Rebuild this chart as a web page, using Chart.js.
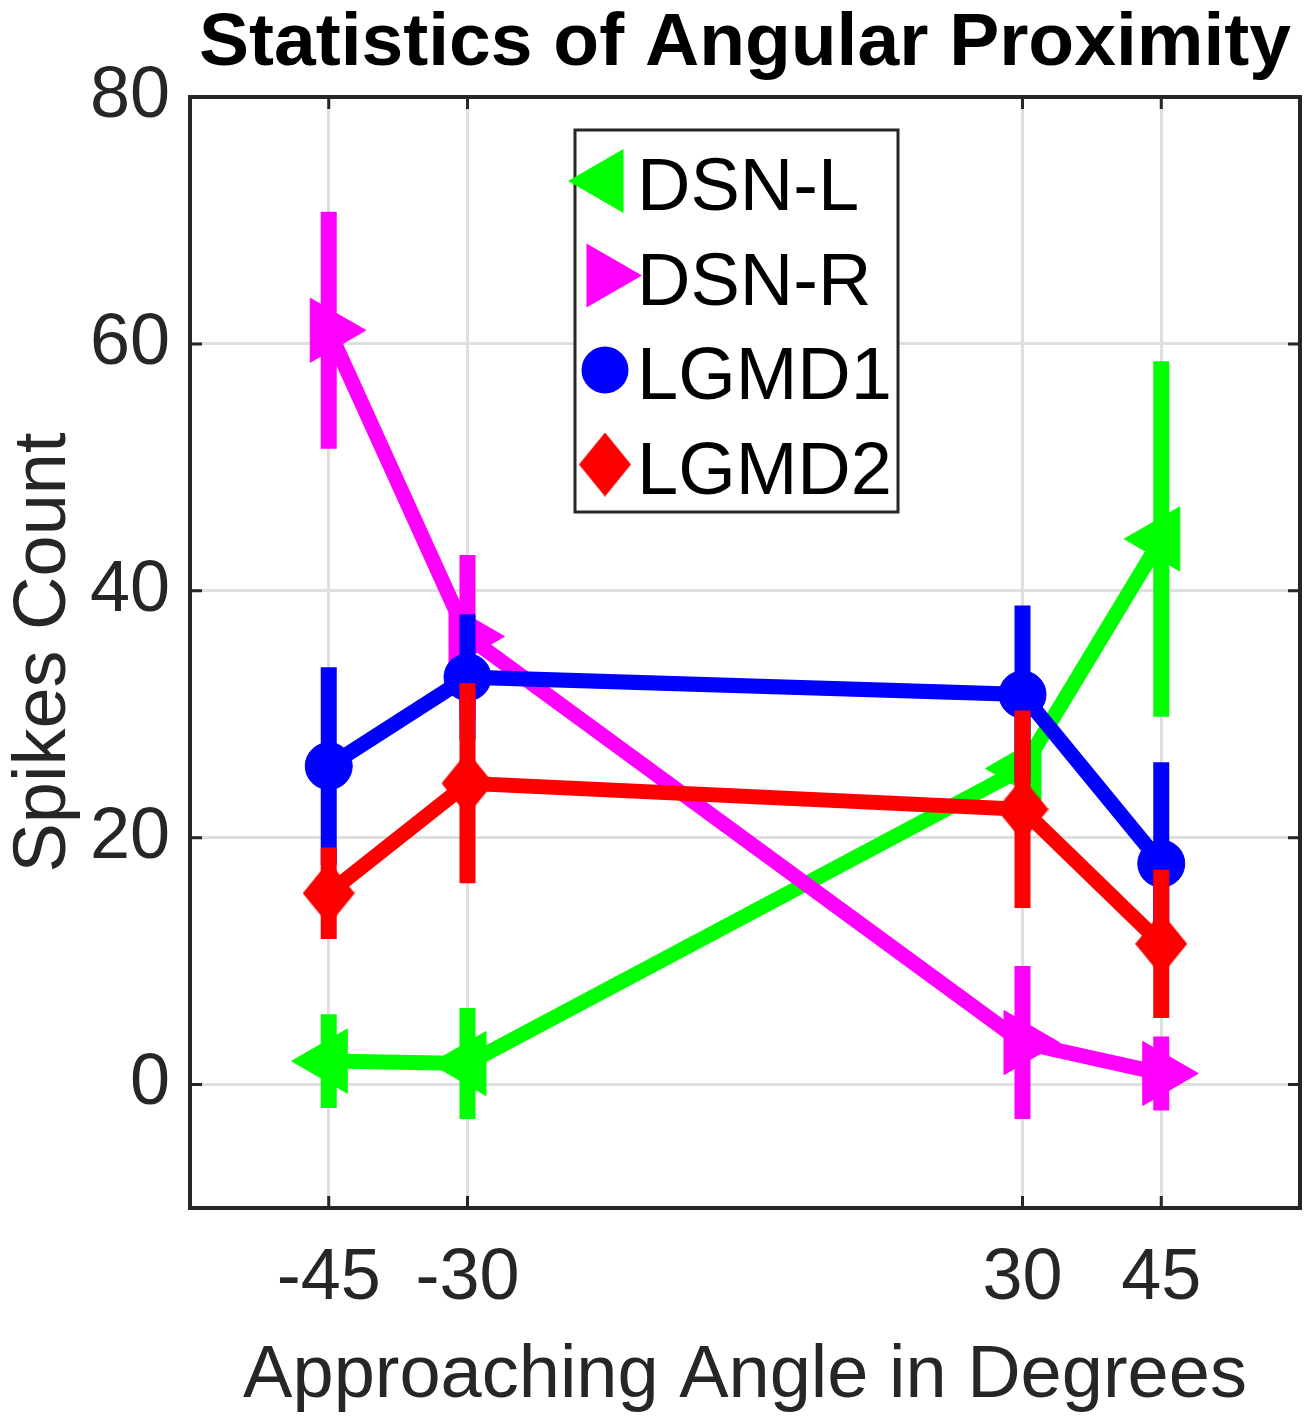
<!DOCTYPE html>
<html>
<head>
<meta charset="utf-8">
<title>Statistics of Angular Proximity</title>
<script src="https://cdn.jsdelivr.net/npm/chart.js@4.4.1/dist/chart.umd.min.js"></script>
<style>
  html, body { margin: 0; padding: 0; background: #fff; overflow: hidden; }
  #contenedor { width: 1315px; height: 1417px; }
  canvas { display: block; }
</style>
</head>
<body>
<div id="contenedor"><canvas id="grafico" width="1315" height="1417"></canvas></div>
<script>
// Datos (media y semiancho de la barra de error)
const angulos = [-45, -30, 30, 45];
const nombres = ['DSN-L', 'DSN-R', 'LGMD1', 'LGMD2'];

const dsnL = [1.9, 1.7, 25.6, 44.2];
const dsnLerr = [3.8, 4.5, 4.0, 14.4];

const dsnR = [61.1, 36.3, 3.4, 0.9];
const dsnRerr = [9.6, 6.6, 6.2, 3.0];

const lgmd1 = [25.8, 33.0, 31.6, 17.9];
const lgmd1err = [8.0, 5.1, 7.2, 8.2];

const lgmd2 = [15.5, 24.4, 22.3, 11.4];
const lgmd2err = [3.7, 8.1, 8.0, 6.0];

const ticksX = [-45, -30, 30, 45];
const ticksY = [0, 20, 40, 60, 80];

const FUENTE = "'Liberation Sans', Arial, Helvetica, sans-serif";
const GRIS = '#262626';

Chart.defaults.font.family = FUENTE;

// rombo un poco mas alto que ancho, como el marcador 'd' de la figura
function crearRombo(color, ancho, alto) {
  const c = document.createElement('canvas');
  c.width = ancho; c.height = alto;
  const g = c.getContext('2d');
  g.fillStyle = color;
  g.beginPath();
  g.moveTo(ancho / 2, 0);
  g.lineTo(ancho, alto / 2);
  g.lineTo(ancho / 2, alto);
  g.lineTo(0, alto / 2);
  g.closePath();
  g.fill();
  return c;
}

function serie(nombre, valores, errores, color, estilo, rotacion, radio, orden) {
  return {
    label: nombre,
    data: angulos.map((a, i) => ({ x: a, y: valores[i] })),
    errores: errores,
    borderColor: color,
    backgroundColor: color,
    borderWidth: 15,
    tension: 0,
    pointStyle: estilo,
    pointRotation: rotacion,
    pointRadius: radio,
    pointHoverRadius: radio,
    pointBackgroundColor: color,
    pointBorderColor: color,
    pointBorderWidth: 1,
    order: orden
  };
}

// dibuja un marcador igual que los de la grafica (para la leyenda)
function marcador(ctx, estilo, rot, r, x, y, color) {
  ctx.save();
  if (estilo instanceof HTMLCanvasElement) {
    ctx.drawImage(estilo, x - estilo.width / 2, y - estilo.height / 2);
    ctx.restore();
    return;
  }
  ctx.fillStyle = color;
  ctx.beginPath();
  if (estilo === 'circle') {
    ctx.arc(x, y, r, 0, Math.PI * 2);
  } else {
    let a = rot * Math.PI / 180;
    for (let k = 0; k < 3; k++) {
      const px = x + Math.sin(a) * r, py = y - Math.cos(a) * r;
      if (k === 0) ctx.moveTo(px, py); else ctx.lineTo(px, py);
      a += 2 * Math.PI / 3;
    }
  }
  ctx.closePath();
  ctx.fill();
  ctx.restore();
}

// barras de error verticales, debajo de la linea de cada serie
const barrasError = {
  id: 'barrasError',
  beforeDatasetDraw(chart, args) {
    const ds = chart.data.datasets[args.index];
    const ejeX = chart.scales.x, ejeY = chart.scales.y;
    const ctx = chart.ctx;
    ctx.save();
    ctx.strokeStyle = ds.borderColor;
    ctx.lineWidth = 16;
    ctx.lineCap = 'butt';
    ds.data.forEach((p, i) => {
      const px = ejeX.getPixelForValue(p.x);
      ctx.beginPath();
      ctx.moveTo(px, ejeY.getPixelForValue(p.y - ds.errores[i]));
      ctx.lineTo(px, ejeY.getPixelForValue(p.y + ds.errores[i]));
      ctx.stroke();
    });
    ctx.restore();
  }
};

// caja de ejes, marcas hacia dentro, titulo y leyenda al estilo MATLAB
const marco = {
  id: 'marco',
  afterDraw(chart) {
    const ctx = chart.ctx;
    const a = chart.chartArea;
    const ejeX = chart.scales.x, ejeY = chart.scales.y;
    ctx.save();

    ctx.strokeStyle = GRIS;
    ctx.lineWidth = 3;
    ticksY.forEach(v => {
      const py = ejeY.getPixelForValue(v);
      ctx.beginPath();
      ctx.moveTo(a.left, py); ctx.lineTo(a.left + 12, py);
      ctx.moveTo(a.right, py); ctx.lineTo(a.right - 12, py);
      ctx.stroke();
    });
    ticksX.forEach(v => {
      const px = ejeX.getPixelForValue(v);
      ctx.beginPath();
      ctx.moveTo(px, a.bottom); ctx.lineTo(px, a.bottom - 12);
      ctx.moveTo(px, a.top); ctx.lineTo(px, a.top + 12);
      ctx.stroke();
    });
    ctx.lineWidth = 4;
    ctx.strokeRect(a.left, a.top, a.right - a.left, a.bottom - a.top);

    // titulo
    ctx.fillStyle = '#000';
    ctx.font = 'bold 75px ' + FUENTE;
    ctx.textAlign = 'center';
    ctx.textBaseline = 'alphabetic';
    ctx.fillText('Statistics of Angular Proximity', (a.left + a.right) / 2, 65);

    // leyenda
    const lx = a.left + 385, ly = a.top + 33;
    ctx.fillStyle = '#fff';
    ctx.fillRect(lx, ly, 323, 382);
    ctx.strokeStyle = GRIS;
    ctx.lineWidth = 3;
    ctx.strokeRect(lx, ly, 323, 382);
    ctx.font = '74px ' + FUENTE;
    ctx.textAlign = 'left';
    chart.data.datasets.forEach((ds, i) => {
      const cy = ly + 51 + i * 94.5;
      marcador(ctx, ds.pointStyle, ds.pointRotation, ds.pointRadius, lx + 30, cy, ds.borderColor);
      ctx.fillStyle = '#000';
      ctx.fillText(ds.label, lx + 62, cy + 29);
    });

    ctx.restore();
  }
};

new Chart(document.getElementById('grafico'), {
  type: 'line',
  data: {
    datasets: [
      serie(nombres[0], dsnL, dsnLerr, '#00ff00', 'triangle', -90, 37, 3),
      serie(nombres[1], dsnR, dsnRerr, '#ff00ff', 'triangle', 90, 37, 2),
      serie(nombres[2], lgmd1, lgmd1err, '#0000ff', 'circle', 0, 23.5, 1),
      serie(nombres[3], lgmd2, lgmd2err, '#ff0000', crearRombo('#ff0000', 52, 64), 0, 28, 0)
    ]
  },
  options: {
    responsive: false,
    animation: false,
    layout: { autoPadding: false, padding: { top: 97, right: 15, left: 0, bottom: 0 } },
    plugins: {
      legend: { display: false },
      title: { display: false },
      tooltip: { enabled: false }
    },
    scales: {
      x: {
        type: 'linear',
        min: -60,
        max: 60,
        afterBuildTicks: (eje) => { eje.ticks = ticksX.map(v => ({ value: v })); },
        afterFit: (eje) => { eje.height = 209; eje.paddingLeft = 0; eje.paddingRight = 0; },
        grid: { color: '#dfdfdf', lineWidth: 3, drawTicks: false },
        border: { display: false },
        ticks: { color: GRIS, font: { size: 72 }, padding: 28, maxRotation: 0 },
        title: { display: true, text: 'Approaching Angle in Degrees', color: GRIS, font: { size: 74 }, padding: { top: 0, bottom: -4 } }
      },
      y: {
        type: 'linear',
        min: -10,
        max: 80,
        afterBuildTicks: (eje) => { eje.ticks = ticksY.map(v => ({ value: v })); },
        afterFit: (eje) => { eje.width = 190; },
        grid: { color: '#dfdfdf', lineWidth: 3, drawTicks: false },
        border: { display: false },
        ticks: { color: GRIS, font: { size: 72 }, padding: 20 },
        title: { display: true, text: 'Spikes Count', color: GRIS, font: { size: 74 }, padding: { top: 0, bottom: 0 } }
      }
    }
  },
  plugins: [barrasError, marco]
});
</script>
</body>
</html>
